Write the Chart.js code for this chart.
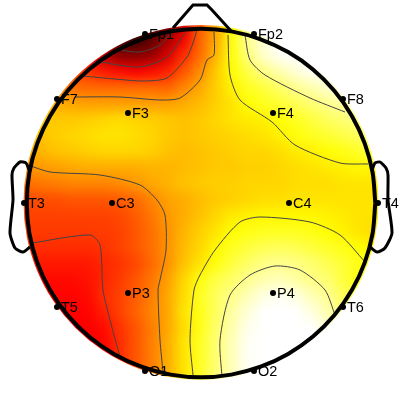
<!DOCTYPE html>
<html lang="en">
<head>
    <meta charset="UTF-8" />
    <title>Scalp map</title>
    <style>
        html, body { margin: 0; padding: 0; background: #fff; }
        canvas { display: block; }
    </style>
</head>
<body>
<canvas id="scalpChart" width="400" height="400"></canvas>

<script src="https://cdn.jsdelivr.net/npm/chart.js"></script>
<script>
    // grid of the potential map (0 = black, 100 = white)
    const gridX = [24, 40, 56, 72, 88, 104, 120, 136, 152, 168, 184, 200, 216, 232, 248, 264, 280, 296, 312, 328, 344, 360, 376];
    const gridY = [24, 40, 56, 72, 88, 104, 120, 136, 152, 168, 184, 200, 216, 232, 248, 264, 280, 296, 312, 328, 344, 360, 376];
    const heatValues = [
        [30,30,30,28,24,16,10,8,10,16,30,50,62,75,89,96,100,100,100,100,100,100,100],
        [32,32,32,30,26,18,10,8,14,24,36,52,62,76,89,96,100,100,100,100,100,100,100],
        [45,42,40,38,36,28,20,20,22,32,44,53,64,76,87,95,99,100,100,100,100,100,100],
        [50,49,48,47,45,41,39,37,39,42,50,58,67,75,82,88,92,96,99,100,100,100,100],
        [56,56,56,54,53,53,53,53,53,52,57,62,68,73,78,81,85,89,92,95,98,100,100],
        [64,63,63,62,61,61,61,61,61,61,63,65,68,71,75,78,80,83,86,89,91,94,98],
        [66,67,67,67,68,69,70,69,68,67,66,67,69,71,72,73,75,78,81,84,86,89,92],
        [64,66,68,69,70,71,71,70,69,67,66,67,68,69,70,71,73,76,78,80,82,84,86],
        [62,64,66,67,68,69,69,69,68,66,65,66,67,68,69,69,70,72,73,75,77,79,81],
        [59,60,61,62,63,63,63,63,64,64,65,66,67,67,68,68,69,70,71,72,73,74,74],
        [54,55,56,57,57,57,58,60,62,64,66,67,68,68,69,69,69,70,70,70,71,71,71],
        [48,49,49,50,50,50,51,53,57,61,63,65,67,68,69,70,70,71,71,71,71,71,71],
        [47,47,47,47,47,47,48,51,55,60,63,66,69,72,73,74,74,74,74,73,72,71,71],
        [46,46,46,46,46,46,47,50,54,59,64,68,71,75,77,78,78,78,77,75,73,71,70],
        [44,44,44,44,44,45,47,50,54,59,65,69,74,78,81,83,84,83,81,79,77,75,73],
        [41,41,41,41,41,43,45,48,53,59,66,71,76,81,85,88,89,88,86,83,80,77,74],
        [39,39,39,39,40,43,46,50,55,61,69,76,82,85,89,92,93,91,88,86,81,76,72],
        [38,38,38,38,39,44,47,51,56,62,70,78,84,88,93,97,99,97,93,89,84,78,72],
        [37,37,37,37,38,42,47,52,57,62,71,77,84,91,96,100,100,100,97,92,86,80,74],
        [37,37,37,37,37,39,45,50,56,62,70,77,85,92,98,100,100,100,100,96,90,84,78],
        [37,37,37,37,37,38,44,50,56,63,71,78,86,93,99,100,100,100,100,100,94,88,82],
        [37,37,37,37,37,38,44,50,56,63,71,78,86,93,99,100,100,100,100,100,98,92,86],
        [37,37,37,37,37,38,44,50,56,63,71,78,86,93,99,100,100,100,100,100,100,96,90]
    ];

    // electrodes
    const channelNames = ['Fp1', 'Fp2', 'F7', 'F3', 'F4', 'F8', 'T3', 'C3', 'C4', 'T4', 'T5', 'P3', 'P4', 'T6', 'O1', 'O2'];
    const channelX = [145, 254, 57, 128, 273, 343, 24, 112, 289, 378, 57, 128, 273, 343, 145, 254];
    const channelY = [34, 34, 99, 113, 113, 99, 203, 203, 203, 203, 307, 293, 293, 307, 371, 371];

    // contour lines, as x,y pairs
    const contours = [
        [[120,50],[140,52],[160,45],[172,32]],
        [[100,62],[140,67],[167,57],[185,33]],
        [[83,76],[115,79],[143,81],[167,78],[187,57],[193,43],[197,30]],
        [[75,97],[120,97],[160,100],[180,98],[200,80],[207,60],[214,55],[214,32]],
        [[28,165],[50,172],[100,175],[140,185],[157,200],[165,215],[166,250],[160,280],[158,290],[160,340],[163,372]],
        [[32,243],[90,235],[100,245],[103,290],[110,320],[120,357]],
        [[228,35],[230,75],[240,100],[272,122],[295,145],[340,163],[368,164]],
        [[245,35],[250,60],[265,75],[310,98],[345,112]],
        [[193,375],[190,340],[194,290],[200,275],[215,250],[240,222],[260,217],[310,222],[340,235],[365,262]],
        [[222,377],[220,340],[230,295],[250,275],[275,266],[300,270],[325,290],[335,315]]
    ];

    // head drawing
    const headOutline = [[375.3,203],[372.6,233.3],[364.7,262.6],[351.9,290.1],[334.5,315],[313,336.5],[288.1,353.9],[260.6,366.7],[231.3,374.6],[201,377.3],[170.7,374.6],[141.4,366.7],[113.9,353.9],[89,336.5],[67.5,315],[50.1,290.1],[37.3,262.6],[29.4,233.3],[26.8,203],[29.4,172.7],[37.3,143.4],[50.1,115.9],[67.5,91],[89,69.5],[113.9,52.1],[141.4,39.3],[170.7,31.4],[201,28.7],[231.3,31.4],[260.6,39.3],[288.1,52.1],[313,69.5],[334.5,91],[351.9,115.9],[364.7,143.4],[372.6,172.7],[375.3,203]];
    const nose = [[173,28],[193,5],[207,5],[212,10],[232,32]];
    const leftEar = [[29,170],[26,163],[20,162],[14,168],[12,175],[13,200],[10,233],[15,248],[23,252],[30,247]];
    const rightEar = [[372,170],[375,163],[380,162],[386,168],[388,175],[388,200],[392,233],[385,248],[377,252],[370,247]];

    // same look as the matlab hot colormap
    function hotColor(v) {
        const t = v / 100;
        const clamp = x => Math.max(0, Math.min(1, x));
        const r = Math.round(255 * clamp(t / 0.375));
        const g = Math.round(255 * clamp((t - 0.375) / 0.375));
        const b = Math.round(255 * clamp((t - 0.75) / 0.25));
        return `rgb(${r},${g},${b})`;
    }

    const heatPoints = [];
    const heatColors = [];
    gridY.forEach((y, row) => {
        gridX.forEach((x, col) => {
            heatPoints.push({ x: x, y: y });
            heatColors.push(hotColor(heatValues[row][col]));
        });
    });

    const toPoints = list => list.map(p => ({ x: p[0], y: p[1] }));

    function lineDataset(list, color, width, tension, order) {
        return {
            data: toPoints(list),
            showLine: true,
            fill: false,
            borderColor: color,
            borderWidth: width,
            pointRadius: 0,
            tension: tension,
            order: order
        };
    }

    // lower order is drawn on top
    const datasets = [{
        data: heatPoints,
        pointStyle: 'rect',
        pointRadius: 12,
        pointBorderWidth: 0,
        pointBackgroundColor: heatColors,
        clip: false,
        order: 4
    }];
    contours.forEach(c => datasets.push(lineDataset(c, '#444444', 1, 0.25, 3)));
    datasets.push(lineDataset(nose, '#000', 3, 0, 2));
    datasets.push(lineDataset(leftEar, '#000', 3, 0.2, 2));
    datasets.push(lineDataset(rightEar, '#000', 3, 0.2, 2));
    datasets.push(lineDataset(headOutline, '#000', 4, 0.3, 2));
    datasets.push({
        data: channelX.map((x, i) => ({ x: x, y: channelY[i] })),
        pointRadius: 3,
        pointBorderWidth: 0,
        pointBackgroundColor: '#000',
        order: 1
    });

    // the heat cells are drawn first, so blur that whole layer and cut it to the head
    const heatClip = {
        id: 'heatClip',
        afterDatasetDraw(chart, args) {
            if (args.index !== 0) return;
            const { ctx, scales, canvas } = chart;
            const copy = document.createElement('canvas');
            copy.width = canvas.width;
            copy.height = canvas.height;
            copy.getContext('2d').drawImage(canvas, 0, 0);
            const cx = scales.x.getPixelForValue(201);
            const cy = scales.y.getPixelForValue(202.5);
            const r = scales.x.getPixelForValue(177.5) - scales.x.getPixelForValue(0);
            ctx.save();
            ctx.clearRect(0, 0, canvas.width, canvas.height);
            ctx.beginPath();
            ctx.arc(cx, cy, r, 0, Math.PI * 2);
            ctx.clip();
            ctx.filter = 'blur(6px)';
            ctx.drawImage(copy, 0, 0);
            ctx.restore();
        }
    };

    const channelLabels = {
        id: 'channelLabels',
        afterDatasetsDraw(chart) {
            const { ctx, scales } = chart;
            ctx.save();
            ctx.fillStyle = '#000';
            ctx.font = '14.5px "Liberation Sans", Arial, sans-serif';
            ctx.textBaseline = 'middle';
            channelNames.forEach((name, i) => {
                ctx.fillText(name, scales.x.getPixelForValue(channelX[i]) + 4, scales.y.getPixelForValue(channelY[i]) + 1);
            });
            ctx.restore();
        }
    };

    new Chart(document.getElementById('scalpChart').getContext('2d'), {
        type: 'scatter',
        data: { datasets: datasets },
        options: {
            responsive: false,
            animation: false,
            layout: { padding: 0, autoPadding: false },
            plugins: { legend: { display: false }, tooltip: { enabled: false } },
            scales: {
                x: { type: 'linear', min: 0, max: 400, display: false },
                y: { type: 'linear', min: 0, max: 400, reverse: true, display: false }
            }
        },
        plugins: [heatClip, channelLabels]
    });
</script>
</body>
</html>
